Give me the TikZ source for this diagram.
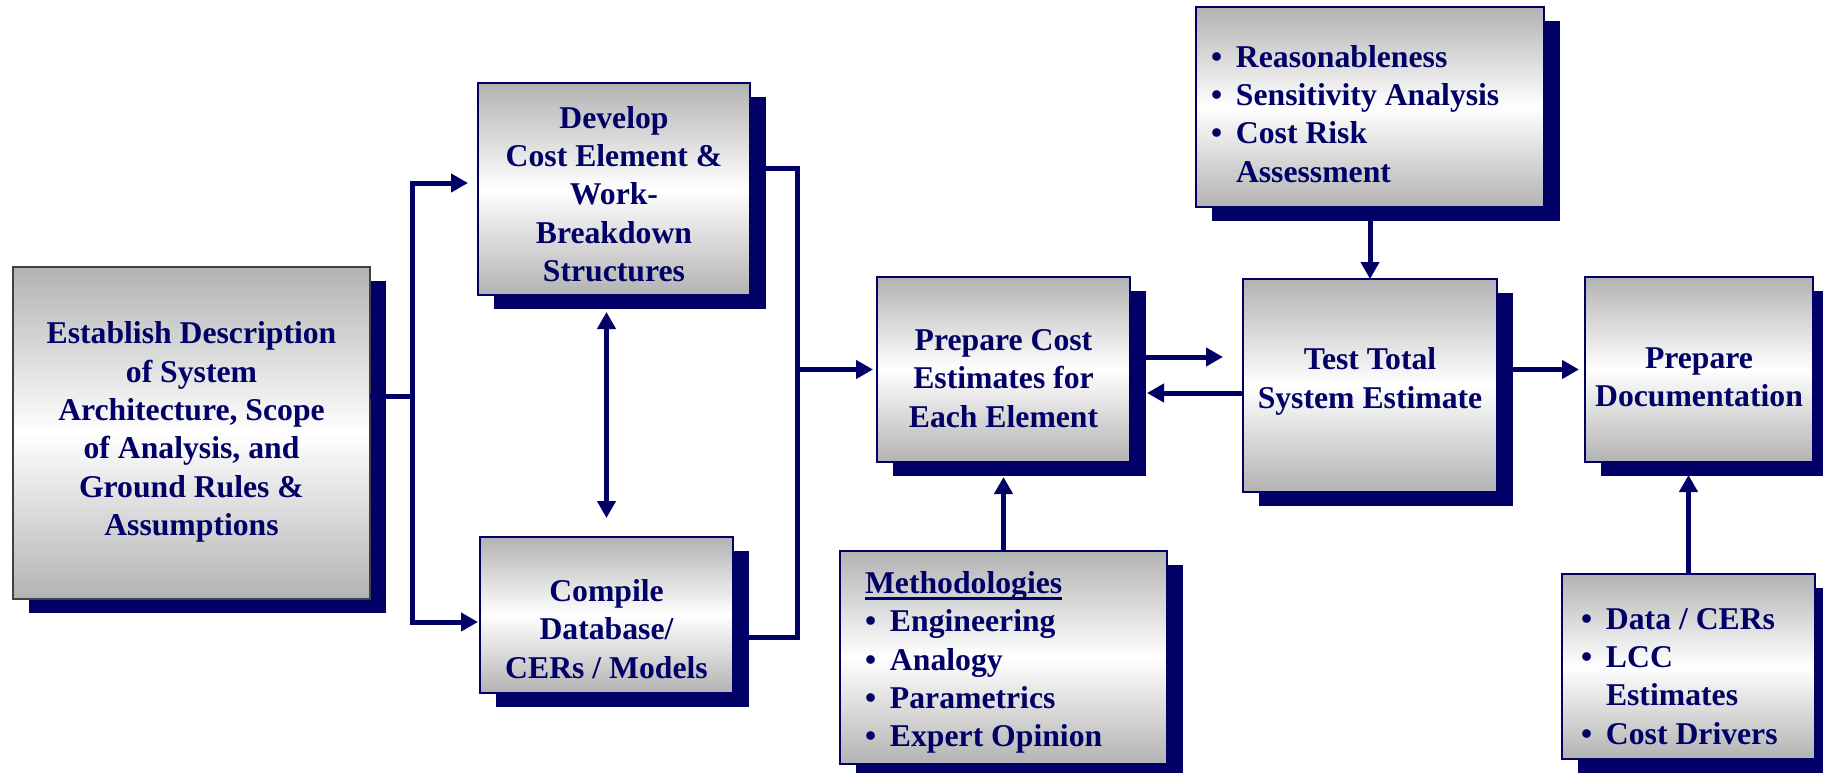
\documentclass[tikz,border=0pt]{standalone}
\usepackage{fontspec}
\setmainfont{Liberation Serif}
\usetikzlibrary{arrows.meta,shadows}
\definecolor{navy}{RGB}{0,0,102}
\newcommand\bul{\makebox[25pt][l]{\textbullet}}
\newcommand\ulin[1]{\sbox0{#1}\rlap{\rule[-6.5pt]{\wd0}{3pt}}\usebox0}
\tikzset{
  cbox/.style={draw=navy, line width=1.5pt, top color=black!30, bottom color=black!30, middle color=white,
    general shadow={fill=navy, shadow xshift=16pt, shadow yshift=-14pt},
    inner sep=0pt, outer sep=0pt},
  txt/.style={text=navy, font=\bfseries\fontsize{31.7}{38.3}\selectfont, align=center, inner sep=0pt},
  ltxt/.style={txt, align=flush left},
  link/.style={draw=navy, line width=5pt},
  arr/.style={link, -{Triangle[length=17pt,width=18pt]}},
  darr/.style={link, {Triangle[length=17pt,width=18pt]}-{Triangle[length=17pt,width=18pt]}},
}
\begin{document}
\begin{tikzpicture}[x=1pt,y=-1pt]
\useasboundingbox (0,0) rectangle (1823,773);
\node[cbox, draw=black!75, minimum width=357pt, minimum height=332pt,
  label={[txt, name=t1, yshift=1pt]center:{Establish Description\\of System\\Architecture, Scope\\of Analysis, and\\Ground Rules \&\\Assumptions}}]
  (b1) at (191.5,433) {};
\node[cbox, minimum width=272pt, minimum height=212pt,
  label={[txt, name=t2, yshift=-5pt]center:{Develop\\Cost Element \&\\Work-\\Breakdown\\Structures}}]
  (b2) at (614,189) {};
\node[cbox, minimum width=253pt, minimum height=156pt,
  label={[txt, name=t4, yshift=-14pt]center:{Compile\\Database/\\CERs / Models}}]
  (b4) at (606.5,615) {};
\node[cbox, minimum width=253pt, minimum height=185pt,
  label={[txt, name=t5, yshift=-9pt]center:{Prepare Cost\\Estimates for\\Each Element}}]
  (b5) at (1003.5,369.5) {};
\node[cbox, minimum width=254pt, minimum height=213pt,
  label={[txt, name=t6, yshift=4pt]center:{Test Total\\System Estimate}}]
  (b6) at (1370,385.5) {};
\node[cbox, minimum width=348pt, minimum height=200pt,
  label={[ltxt, name=t7, text width=318pt, yshift=-7pt]center:{\bul Reasonableness\\\bul Sensitivity Analysis\\\bul Cost Risk\\\hspace*{25pt}Assessment}}]
  (b7) at (1370,107) {};
\node[cbox, minimum width=228pt, minimum height=185pt,
  label={[txt, name=t8, yshift=-8pt]center:{Prepare\\Documentation}}]
  (b8) at (1699,369.5) {};
\node[cbox, minimum width=253pt, minimum height=185pt,
  label={[ltxt, name=t9, text width=215pt, yshift=-10pt]center:{\bul Data / CERs\\\bul LCC\\\hspace*{25pt}Estimates\\\bul Cost Drivers}}]
  (b9) at (1688.5,666.5) {};
\node[cbox, minimum width=327pt, minimum height=213pt,
  label={[ltxt, name=t10, text width=277pt, yshift=-5pt]center:{\ulin{Methodologies}\\\bul Engineering\\\bul Analogy\\\bul Parametrics\\\bul Expert Opinion}}]
  (b10) at (1003.5,657.5) {};
% connectors
\coordinate (j1) at (412,396);
\draw[link] (b1.east |- j1) -- (j1);
\draw[arr, shorten >=10pt] (j1) |- ([yshift=6pt]b2.west);
\draw[arr, shorten >=2pt] (j1) |- ([yshift=-7pt]b4.west);
\coordinate (j2) at (797,369.5);
\draw[link, line join=miter] ([yshift=21pt]b2.east) -| (j2) |- ([yshift=-22pt]b4.east);
\draw[arr, shorten >=4pt] (j2) -- (b5.west);
\draw[darr, shorten <=17pt, shorten >=19pt] (b4.north |- b2.south) -- (b4.north);
\draw[arr, shorten >=15pt] (b10.north) -- (b10.north |- b5.south);
\draw[arr, shorten >=20pt] ([yshift=12.5pt]b5.east) -- ([yshift=12.5pt]b5.east -| b6.west);
\draw[arr, shorten >=17pt] ([yshift=-7.5pt]b6.west) -- ([yshift=-7.5pt]b6.west -| b5.east);
\draw[arr] (b7.south) -- (b6.north);
\draw[arr, shorten >=6pt] (b6.east |- b8.west) -- (b8.west);
\draw[arr, shorten >=13pt] (b9.north) -- (b9.north |- b8.south);
\end{tikzpicture}
\end{document}
